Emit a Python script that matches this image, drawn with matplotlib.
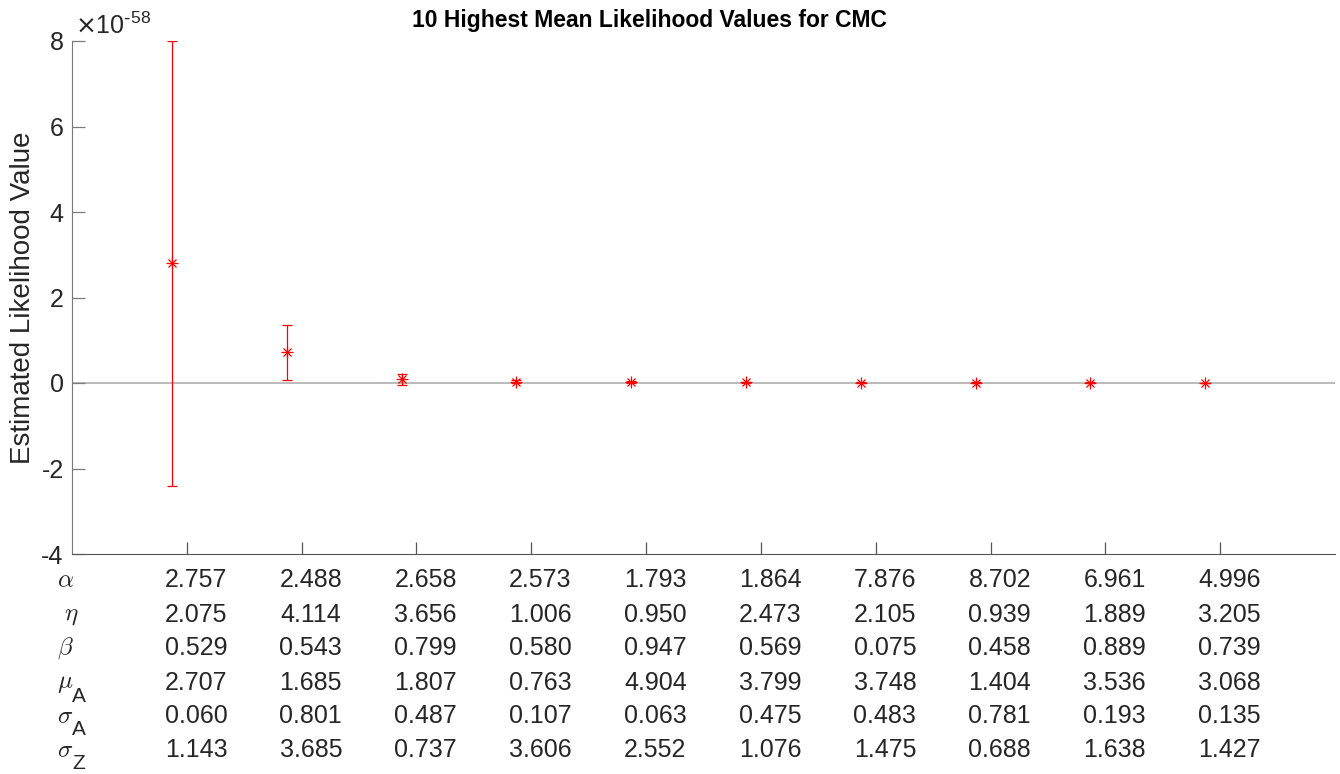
import numpy as np
import matplotlib
matplotlib.use('Agg')
import matplotlib.pyplot as plt
from matplotlib.ticker import FuncFormatter
from matplotlib.transforms import blended_transform_factory

plt.rcParams['font.family'] = ['Liberation Sans', 'DejaVu Sans']
plt.rcParams['axes.unicode_minus'] = False

# mean likelihood and half-width of the error bar for the 10 best parameter sets
scale = 1e-58
mean_lik = np.array([2.80, 0.72, 0.09, 0.03, 0.02, 0.012, 0.010, 0.010, 0.008, 0.005]) * scale
err_lik = np.array([5.20, 0.64, 0.13, 0.04, 0.02, 0.008, 0.006, 0.006, 0.005, 0.004]) * scale

# parameter values of each set, printed under the axis
row_symbols = [r'$\alpha$', r'$\ \eta$', r'$\beta$', r'$\mu$', r'$\sigma$', r'$\sigma$']
row_subs = ['', '', '', 'A', 'A', 'Z']
alpha = [2.757, 2.488, 2.658, 2.573, 1.793, 1.864, 7.876, 8.702, 6.961, 4.996]
eta = [2.075, 4.114, 3.656, 1.006, 0.950, 2.473, 2.105, 0.939, 1.889, 3.205]
beta = [0.529, 0.543, 0.799, 0.580, 0.947, 0.569, 0.075, 0.458, 0.889, 0.739]
mu_a = [2.707, 1.685, 1.807, 0.763, 4.904, 3.799, 3.748, 1.404, 3.536, 3.068]
sigma_a = [0.060, 0.801, 0.487, 0.107, 0.063, 0.475, 0.483, 0.781, 0.193, 0.135]
sigma_z = [1.143, 3.685, 0.737, 3.606, 2.552, 1.076, 1.475, 0.688, 1.638, 1.427]
table = [alpha, eta, beta, mu_a, sigma_a, sigma_z]

ticks = np.arange(1, 11)
xpos = ticks - 0.13

fig = plt.figure(figsize=(13.4, 7.74), dpi=100)
ax = fig.add_axes([72 / 1340, 1 - 554 / 774, (1335 - 72) / 1340, (554 - 41) / 774])

ax.axhline(0, color='#b4b4b4', linewidth=1.3, zorder=1)
ax.errorbar(xpos, mean_lik, yerr=err_lik, fmt='none', ecolor='red',
            elinewidth=0.9, capsize=3.6, capthick=0.9, zorder=2)
# asterisk marker: plus and cross drawn on top of each other
ax.plot(xpos, mean_lik, linestyle='none', marker='+', markersize=8,
        markeredgewidth=0.9, color='red', zorder=3)
ax.plot(xpos, mean_lik, linestyle='none', marker='x', markersize=6,
        markeredgewidth=0.9, color='red', zorder=3)

ax.set_xlim(0, 11)
ax.set_ylim(-4 * scale, 8 * scale)
ax.set_xticks(ticks)
ax.set_xticklabels([])
ax.set_yticks(np.arange(-4, 9, 2) * scale)
ax.yaxis.set_major_formatter(FuncFormatter(lambda v, _: f'{v / scale:g}'))
fig.text(75 / 1340, 1 - 34 / 774, r'$\times\mathregular{10^{\text{-}58}}$', fontsize=18,
         color='#262626', ha='left', va='baseline')

for side in ['top', 'right']:
    ax.spines[side].set_visible(False)
ax.spines['left'].set_color('#7a7a7a')
ax.spines['bottom'].set_color('#555555')
ax.tick_params(axis='both', direction='in', length=9, width=0.9,
               colors='#555555', labelcolor='#262626', labelsize=18, pad=6)
ax.tick_params(axis='y', colors='#7a7a7a', labelcolor='#262626')

ax.set_ylabel('Estimated Likelihood Value', fontsize=20, color='#262626', labelpad=4)
ax.set_title('10 Highest Mean Likelihood Values for CMC', fontsize=16.5,
             fontweight='bold', pad=10, x=(649 - 72) / 1263)

# table of parameter values under each error bar
trans = blended_transform_factory(ax.transData, fig.transFigure)
row_y = [580, 615, 648, 683, 716, 750]
for sym, sub, vals, yp in zip(row_symbols, row_subs, table, row_y):
    fig.text(57 / 1340, 1 - yp / 774, sym, fontsize=18, ha='left', va='center',
             color='#262626', math_fontfamily='cm')
    if sub:
        fig.text(72 / 1340, 1 - (yp + 19) / 774, sub, fontsize=15, ha='left',
                 va='baseline', color='#262626')
    for t, v in zip(ticks, vals):
        ax.text(t + 0.08, 1 - yp / 774, f'{v:.3f}', transform=trans,
                fontsize=18, ha='center', va='center', color='#262626')

fig.savefig('out.png', dpi=100)
